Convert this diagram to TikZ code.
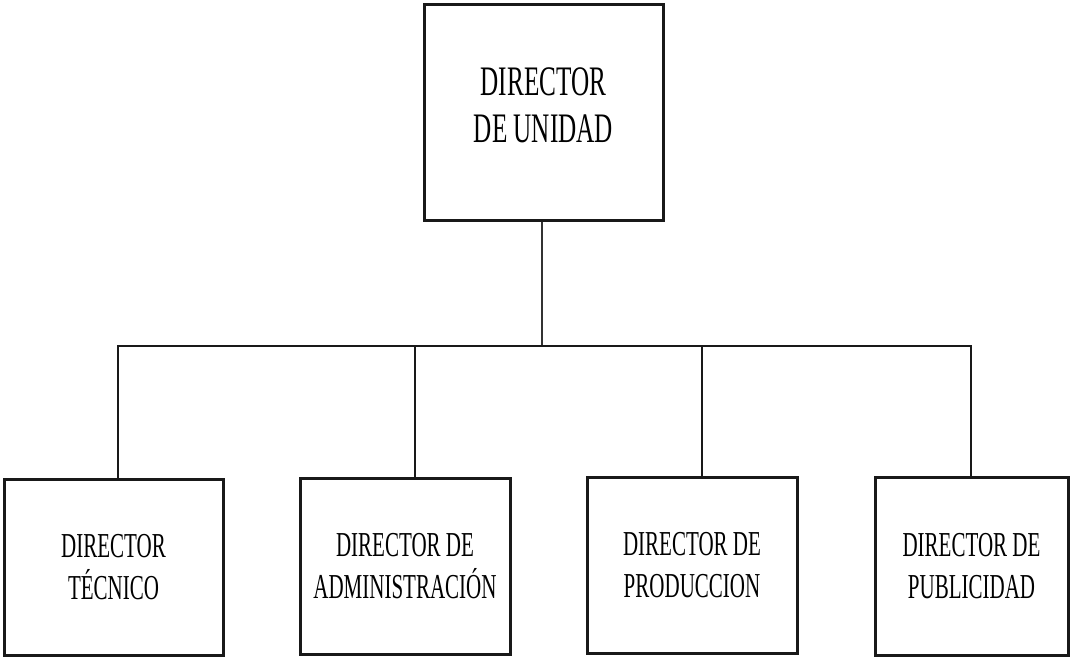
\documentclass[tikz,border=0pt]{standalone}
\usepackage{fontspec}
\newfontfamily\condserif[FakeStretch=0.6]{Liberation Serif}
\begin{document}
\begin{tikzpicture}[x=1pt,y=-1pt,
  box/.style={draw=black!90,line width=3pt,rectangle,align=center,inner sep=0pt},
  bigtxt/.style={font=\condserif\fontsize{42}{47}\selectfont},
  smalltxt/.style={font=\condserif\fontsize{35}{42}\selectfont},
  conn/.style={draw=black!90,line width=2.5pt},
  stem/.style={draw=black!80,line width=1.4pt}]
\useasboundingbox (0,0) rectangle (1071,662);
\node[box,bigtxt,minimum width=239pt,minimum height=216pt,text depth=14pt] (top) at (543.5,112) {DIRECTOR\\DE UNIDAD};
\node[box,smalltxt,minimum width=219pt,minimum height=176pt] (b1) at (113.5,567) {DIRECTOR\\TÉCNICO};
\node[box,smalltxt,minimum width=210pt,minimum height=176pt] (b2) at (405,566) {DIRECTOR DE\\ADMINISTRACIÓN};
\node[box,smalltxt,minimum width=210pt,minimum height=176pt] (b3) at (692,565) {DIRECTOR DE\\PRODUCCION};
\node[box,smalltxt,minimum width=193pt,minimum height=178pt] (b4) at (971.5,566) {DIRECTOR DE\\PUBLICIDAD};
\coordinate (s) at (542,346);
\coordinate (j1) at (118,346);
\coordinate (j2) at (415,346);
\coordinate (j3) at (702,346);
\coordinate (j4) at (971,346);
\draw[stem] (s |- top.south) -- (s);
\draw[conn,line cap=rect] (j1) -- (j4);
\draw[conn] (j1) -- (j1 |- b1.north);
\draw[conn] (j2) -- (j2 |- b2.north);
\draw[conn] (j3) -- (j3 |- b3.north);
\draw[conn] (j4) -- (j4 |- b4.north);
\end{tikzpicture}
\end{document}
